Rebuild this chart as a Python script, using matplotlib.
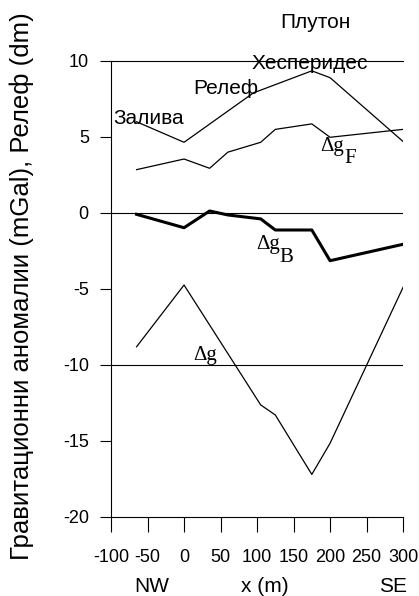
import matplotlib
matplotlib.use("Agg")
from matplotlib import pyplot as plt
import matplotlib.transforms as mtransforms

plt.rcParams['font.family'] = ['Liberation Sans', 'DejaVu Sans']
plt.rcParams['axes.unicode_minus'] = False

# profile stations and values
x_relief = [-65, 0, 95, 175, 200, 300]
relief = [6.0, 4.65, 7.9, 9.35, 8.9, 4.7]

x_st = [-65, 0, 35, 60, 105, 125, 175, 200, 300]
dg_free = [2.85, 3.55, 2.94, 4.0, 4.65, 5.5, 5.86, 4.98, 5.5]
dg_boug = [-0.09, -0.97, 0.13, -0.13, -0.39, -1.12, -1.12, -3.14, -2.06]

x_dg = [-65, 0, 105, 125, 175, 200, 300]
dg = [-8.8, -4.74, -12.63, -13.29, -17.2, -15.15, -4.89]

xticks = [-100, -50, 0, 50, 100, 150, 200, 250, 300]
yticks = [10, 5, 0, -5, -10, -15, -20]

fig = plt.figure(figsize=(4.19, 5.96), dpi=100)
ax = fig.add_axes([0.265, 0.1326, 0.697, 0.7651])

ax.plot(x_relief, relief, color='black', lw=0.9)
ax.plot(x_st, dg_free, color='black', lw=0.9)
ax.plot(x_st, dg_boug, color='black', lw=2.2)
ax.plot(x_dg, dg, color='black', lw=0.9)

for yy in [0, -10]:
    ax.axhline(yy, color='black', lw=0.8)

ax.set_xlim(-100, 300)
ax.set_ylim(-20, 10)
ax.set_xticks(xticks)
ax.set_yticks(yticks)
ax.spines['right'].set_visible(False)
for s in ['left', 'top', 'bottom']:
    ax.spines[s].set_linewidth(0.8)
ax.tick_params(axis='x', direction='out', length=11, width=0.8, pad=12, labelsize=13)
ax.tick_params(axis='y', direction='out', length=8, width=0.8, pad=8, labelsize=13)

# area labels
ax.text(-97, 5.86, 'Залива', fontsize=15, ha='left', va='baseline')
ax.text(12.7, 7.83, 'Релеф', fontsize=15, ha='left', va='baseline')
ax.text(92.7, 9.5, 'Хесперидес', fontsize=15, ha='left', va='baseline', clip_on=False)
ax.text(131.5, 12.15, 'Плутон', fontsize=15, ha='left', va='baseline', clip_on=False)

# anomaly labels, big subscript like in the original
serif = ['Liberation Serif', 'DejaVu Serif']
ax.text(186, 4.1, 'Δg', fontsize=15, family=serif, va='baseline')
ax.text(219, 3.3, 'F', fontsize=15, family=serif, va='baseline')
ax.text(98.6, -2.37, 'Δg', fontsize=15, family=serif, va='baseline')
ax.text(131, -3.2, 'B', fontsize=15, family=serif, va='baseline')
ax.text(12.7, -9.67, 'Δg', fontsize=15, family=serif, va='baseline')

# bottom direction labels
trans = mtransforms.blended_transform_factory(ax.transData, fig.transFigure)
ax.text(-44, 4.3 / 596, 'NW', fontsize=15, ha='center', va='baseline', transform=trans)
ax.text(111, 4.3 / 596, 'x (m)', fontsize=15, ha='center', va='baseline', transform=trans)
ax.text(286, 4.3 / 596, 'SE', fontsize=15, ha='center', va='baseline', transform=trans)

fig.text(22 / 419, 0.52, 'Гравитационни аномалии (mGal), Релеф (dm)',
         rotation=90, fontsize=18.5, ha='center', va='center')

fig.savefig('out.png', dpi=100)
